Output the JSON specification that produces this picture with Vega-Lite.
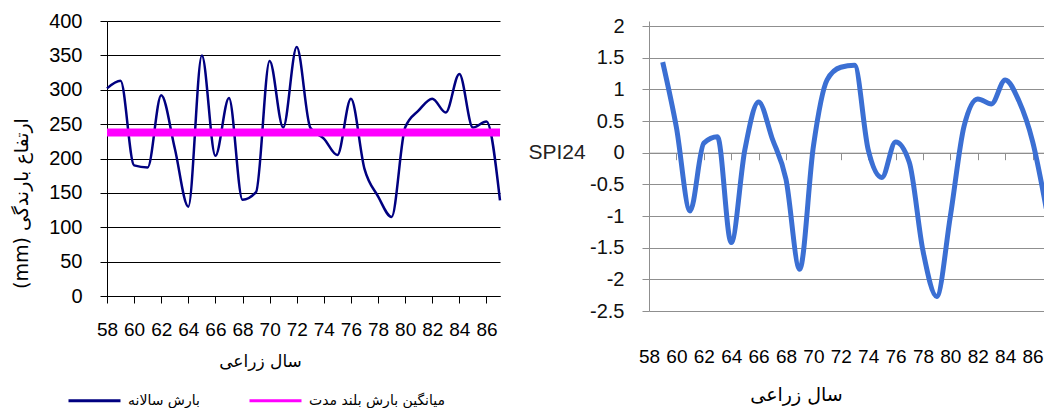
{
  "$schema": "https://vega.github.io/schema/vega-lite/v6.json",
  "padding": {"left": 12, "top": 11, "right": 0, "bottom": 0},
  "spacing": 23,
  "background": "white",
  "config": {"view": {"stroke": null}},
  "datasets": {
    "rain": [
      {"year": 58, "mm": 302, "series": "بارش سالانه"},
      {"year": 59, "mm": 313, "series": "بارش سالانه"},
      {"year": 60, "mm": 190, "series": "بارش سالانه"},
      {"year": 61, "mm": 187, "series": "بارش سالانه"},
      {"year": 62, "mm": 292, "series": "بارش سالانه"},
      {"year": 63, "mm": 215, "series": "بارش سالانه"},
      {"year": 64, "mm": 130, "series": "بارش سالانه"},
      {"year": 65, "mm": 350, "series": "بارش سالانه"},
      {"year": 66, "mm": 204, "series": "بارش سالانه"},
      {"year": 67, "mm": 288, "series": "بارش سالانه"},
      {"year": 68, "mm": 140, "series": "بارش سالانه"},
      {"year": 69, "mm": 151, "series": "بارش سالانه"},
      {"year": 70, "mm": 342, "series": "بارش سالانه"},
      {"year": 71, "mm": 245, "series": "بارش سالانه"},
      {"year": 72, "mm": 362, "series": "بارش سالانه"},
      {"year": 73, "mm": 245, "series": "بارش سالانه"},
      {"year": 74, "mm": 229, "series": "بارش سالانه"},
      {"year": 75, "mm": 205, "series": "بارش سالانه"},
      {"year": 76, "mm": 287, "series": "بارش سالانه"},
      {"year": 77, "mm": 185, "series": "بارش سالانه"},
      {"year": 78, "mm": 145, "series": "بارش سالانه"},
      {"year": 79, "mm": 115, "series": "بارش سالانه"},
      {"year": 80, "mm": 245, "series": "بارش سالانه"},
      {"year": 81, "mm": 270, "series": "بارش سالانه"},
      {"year": 82, "mm": 287, "series": "بارش سالانه"},
      {"year": 83, "mm": 267, "series": "بارش سالانه"},
      {"year": 84, "mm": 323, "series": "بارش سالانه"},
      {"year": 85, "mm": 245, "series": "بارش سالانه"},
      {"year": 86, "mm": 254, "series": "بارش سالانه"},
      {"year": 87, "mm": 139, "series": "بارش سالانه"}
    ],
    "mean": [
      {"mm": 238, "series": "میانگین بارش بلند مدت"}
    ],
    "spi": [
      {"year": 59, "spi": 1.43},
      {"year": 60, "spi": 0.4},
      {"year": 61, "spi": -0.92},
      {"year": 62, "spi": 0.15},
      {"year": 63, "spi": 0.25},
      {"year": 64, "spi": -1.42},
      {"year": 65, "spi": 0.05},
      {"year": 66, "spi": 0.8},
      {"year": 67, "spi": 0.22},
      {"year": 68, "spi": -0.42},
      {"year": 69, "spi": -1.84},
      {"year": 70, "spi": 0.1},
      {"year": 71, "spi": 1.15},
      {"year": 72, "spi": 1.35},
      {"year": 73, "spi": 1.38},
      {"year": 74, "spi": 0.05},
      {"year": 75, "spi": -0.39},
      {"year": 76, "spi": 0.17},
      {"year": 77, "spi": -0.15},
      {"year": 78, "spi": -1.55},
      {"year": 79, "spi": -2.27},
      {"year": 80, "spi": -1.0},
      {"year": 81, "spi": 0.42},
      {"year": 82, "spi": 0.85},
      {"year": 83, "spi": 0.77},
      {"year": 84, "spi": 1.15},
      {"year": 85, "spi": 0.82},
      {"year": 86, "spi": 0.18},
      {"year": 87, "spi": -0.88}
    ]
  },
  "hconcat": [
    {
      "width": 393,
      "height": 275,
      "layer": [
        {
          "data": {"name": "rain"},
          "mark": {"type": "line", "interpolate": "monotone", "strokeWidth": 2.5},
          "encoding": {
            "x": {
              "field": "year", "type": "quantitative",
              "scale": {"domain": [58, 87], "nice": false, "zero": false},
              "axis": {
                "values": [58, 60, 62, 64, 66, 68, 70, 72, 74, 76, 78, 80, 82, 84, 86],
                "tickCount": 100,
                "labelExpr": "datum.value + ''",
                "grid": false,
                "domainColor": "#000000", "tickColor": "#000000", "tickSize": 7,
                "labelFont": "Liberation Sans, Arial, sans-serif",
                "labelFontSize": 19, "labelColor": "#000000", "labelPadding": 17,
                "labelFlush": false, "labelOverlap": false,
                "title": "سال زراعی",
                "titleFont": "DejaVu Sans", "titleFontSize": 17, "titleFontWeight": "normal", "titleColor": "#000000",
                "titleX": 153, "titleY": 65, "titleBaseline": "middle", "titleAlign": "center"
              }
            },
            "y": {
              "field": "mm", "type": "quantitative",
              "scale": {"domain": [0, 400], "nice": false},
              "axis": {
                "values": [0, 50, 100, 150, 200, 250, 300, 350, 400],
                "tickCount": 100,
                "labelOverlap": false,
                "grid": true, "gridColor": "#000000", "gridWidth": 1,
                "domainColor": "#000000", "tickColor": "#000000", "tickSize": 7,
                "labelFont": "Liberation Sans, Arial, sans-serif", "labelFontSize": 20, "labelColor": "#000000",
                "labelPadding": 18,
                "title": "(mm) ارتفاع بارندگی",
                "titleFont": "DejaVu Sans", "titleFontSize": 19, "titleFontWeight": "normal", "titleColor": "#000000",
                "titleX": -86, "titleY": 182, "titleAngle": 270, "titleBaseline": "middle", "titleAlign": "center"
              }
            },
            "color": {
              "field": "series", "type": "nominal",
              "scale": {"domain": ["بارش سالانه", "میانگین بارش بلند مدت"], "range": ["#000080", "#ff00ff"]},
              "legend": {
                "orient": "none", "legendX": -40, "legendY": 352, "direction": "horizontal",
                "title": null, "symbolType": "stroke", "symbolSize": 2704, "symbolStrokeWidth": 3,
                "labelFont": "DejaVu Sans", "labelFontSize": 14, "labelColor": "#000000",
                "labelOffset": 6, "columnPadding": 43, "padding": 0
              }
            }
          }
        },
        {
          "data": {"name": "mean"},
          "mark": {"type": "rule", "strokeWidth": 8},
          "encoding": {
            "y": {"field": "mm", "type": "quantitative"},
            "color": {"field": "series", "type": "nominal"}
          }
        }
      ]
    },
    {
      "width": 400,
      "height": 290,
      "resolve": {"axis": {"x": "independent"}},
      "layer": [
        {
          "data": {"name": "spi"},
          "mark": {"type": "line", "strokeOpacity": 0},
          "encoding": {
            "x": {
              "field": "year", "type": "quantitative",
              "scale": {"domain": [58, 87.2], "nice": false, "zero": false},
              "axis": {
                "orient": "bottom",
                "values": [58, 60, 62, 64, 66, 68, 70, 72, 74, 76, 78, 80, 82, 84, 86],
                "tickCount": 100,
                "labelExpr": "datum.value + ''",
                "grid": false, "domain": false, "ticks": false,
                "labelFont": "Liberation Sans, Arial, sans-serif",
                "labelFontSize": 19, "labelColor": "#000000", "labelPadding": 36,
                "labelFlush": false, "labelOverlap": false,
                "title": "سال زراعی",
                "titleFont": "DejaVu Sans", "titleFontSize": 19, "titleFontWeight": "normal", "titleColor": "#000000",
                "titleX": 147, "titleY": 83, "titleBaseline": "middle", "titleAlign": "center"
              }
            },
            "y": {
              "field": "spi", "type": "quantitative",
              "scale": {"domain": [-2.5, 2.08], "nice": false, "zero": false},
              "axis": {
                "values": [-2.5, -2, -1.5, -1, -0.5, 0, 0.5, 1, 1.5, 2],
                "tickCount": 100,
                "labelExpr": "datum.value + ''",
                "labelOverlap": false,
                "grid": true, "gridColor": "#8f8f8f", "gridWidth": 1,
                "domainColor": "#8f8f8f", "tickColor": "#8f8f8f", "tickSize": 7,
                "labelFont": "Liberation Sans, Arial, sans-serif", "labelFontSize": 20, "labelColor": "#111111",
                "labelPadding": 18,
                "title": "SPI24",
                "titleFont": "Liberation Sans, Arial, sans-serif", "titleFontSize": 21, "titleFontWeight": "normal", "titleColor": "#222222",
                "titleX": -121, "titleY": 131.7, "titleAngle": 0, "titleBaseline": "middle", "titleAlign": "left"
              }
            }
          }
        },
        {
          "data": {"name": "spi"},
          "mark": {"type": "line", "interpolate": "monotone", "strokeWidth": 5, "color": "#3b6fd3"},
          "encoding": {
            "x": {
              "field": "year", "type": "quantitative",
              "axis": {
                "orient": "top", "offset": -131.7,
                "values": [58, 60, 62, 64, 66, 68, 70, 72, 74, 76, 78, 80, 82, 84, 86],
                "tickCount": 100,
                "labels": false, "grid": false, "title": null,
                "domainColor": "#8f8f8f", "tickColor": "#8f8f8f", "tickSize": -7
              }
            },
            "y": {"field": "spi", "type": "quantitative"}
          }
        }
      ]
    }
  ]
}
